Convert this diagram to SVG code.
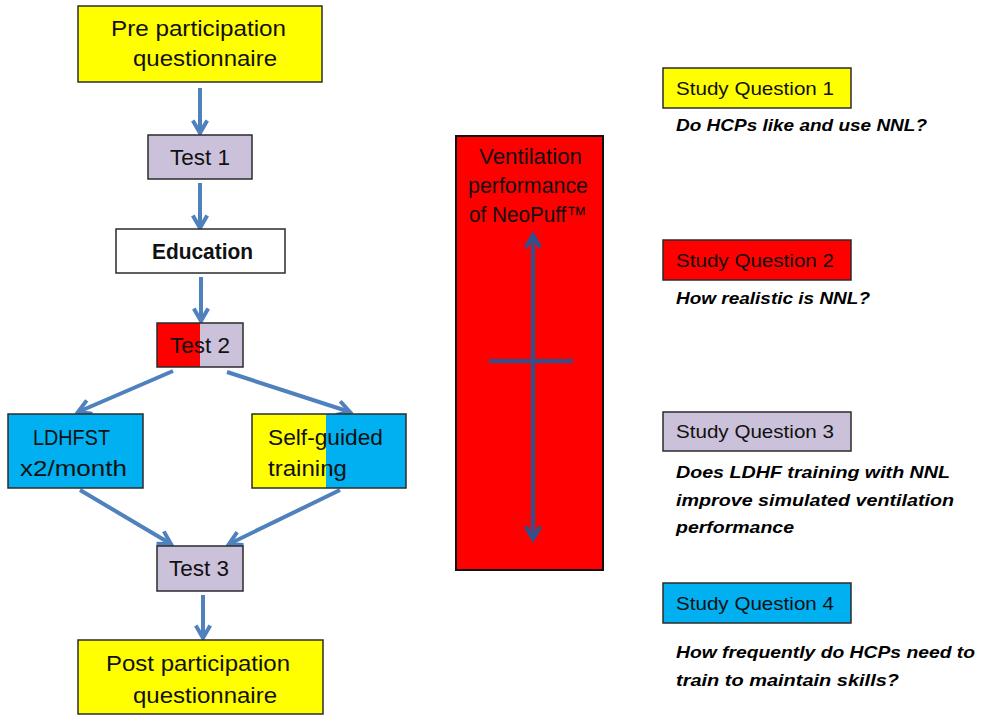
<svg xmlns="http://www.w3.org/2000/svg" width="986" height="716" viewBox="0 0 986 716">
<defs>
<style>
.box{stroke:#2b2b2b;stroke-width:1.5}
.s{font-family:"Liberation Sans","Open Sans",Arial,sans-serif;font-size:22px;fill:#111}
.q{font-family:"Liberation Sans","Open Sans",Arial,sans-serif;font-size:19px;fill:#111}
.qi{font-family:"Liberation Sans",Arial,sans-serif;font-size:17px;font-weight:bold;font-style:italic;fill:#000}
.c{stroke:#4F81BD;stroke-width:4;fill:none}
.d{stroke:#2F528F;stroke-width:4;fill:none}
</style>
<marker id="ah" viewBox="0 0 10 10" refX="8" refY="5" markerWidth="4.5" markerHeight="4.5" orient="auto" markerUnits="strokeWidth">
<path d="M1,1 L8,5 L1,9" fill="none" stroke="#4F81BD" stroke-width="2.2"/>
</marker>
<marker id="dh" viewBox="0 0 10 10" refX="8" refY="5" markerWidth="4.5" markerHeight="4.5" orient="auto" markerUnits="strokeWidth">
<path d="M1,1 L8,5 L1,9" fill="none" stroke="#2F528F" stroke-width="2.2"/>
</marker>
</defs>
<rect width="986" height="716" fill="#fff"/>

<g id="connectors">
<line class="c" x1="200" y1="88" x2="200" y2="133" marker-end="url(#ah)"/>
<line class="c" x1="200" y1="183" x2="200" y2="228" marker-end="url(#ah)"/>
<line class="c" x1="201" y1="277" x2="201" y2="321" marker-end="url(#ah)"/>
<line class="c" x1="173" y1="371" x2="78" y2="412" marker-end="url(#ah)"/>
<line class="c" x1="227" y1="372" x2="350" y2="412" marker-end="url(#ah)"/>
<line class="c" x1="80" y1="490" x2="171" y2="544" marker-end="url(#ah)"/>
<line class="c" x1="340" y1="490" x2="229" y2="544" marker-end="url(#ah)"/>
<line class="c" x1="203" y1="595" x2="203" y2="638" marker-end="url(#ah)"/>
</g>

<g id="pre">
<rect class="box" x="78" y="6" width="244" height="76" fill="#FFFF00"/>
<text class="s" x="111" y="36" textLength="175" lengthAdjust="spacingAndGlyphs">Pre participation</text>
<text class="s" x="133" y="66" textLength="144" lengthAdjust="spacingAndGlyphs">questionnaire</text>
</g>
<g id="test1">
<rect class="box" x="148" y="135" width="104" height="44" fill="#CCC1DA"/>
<text class="s" x="170" y="165" textLength="60" lengthAdjust="spacingAndGlyphs">Test 1</text>
</g>
<g id="education">
<rect class="box" x="116" y="229" width="169" height="44" fill="#fff"/>
<text class="s" x="152" y="259" font-weight="bold" textLength="101" lengthAdjust="spacingAndGlyphs">Education</text>
</g>
<g id="test2">
<rect x="157" y="323" width="43" height="44" fill="#FF0000"/>
<rect x="200" y="323" width="43" height="44" fill="#CCC1DA"/>
<rect class="box" x="157" y="323" width="86" height="44" fill="none"/>
<text class="s" x="170" y="353" textLength="60" lengthAdjust="spacingAndGlyphs">Test 2</text>
</g>
<g id="ldhfst">
<rect class="box" x="8" y="414" width="135" height="74" fill="#00B0F0"/>
<text class="s" x="33" y="445" textLength="77" lengthAdjust="spacingAndGlyphs">LDHFST</text>
<text class="s" x="20" y="476" textLength="107" lengthAdjust="spacingAndGlyphs">x2/month</text>
</g>
<g id="selfguided">
<rect x="252" y="414" width="74" height="74" fill="#FFFF00"/>
<rect x="326" y="414" width="80" height="74" fill="#00B0F0"/>
<rect class="box" x="252" y="414" width="154" height="74" fill="none"/>
<text class="s" x="268" y="445" textLength="115" lengthAdjust="spacingAndGlyphs">Self-guided</text>
<text class="s" x="268" y="476" textLength="79" lengthAdjust="spacingAndGlyphs">training</text>
</g>
<g id="test3">
<rect class="box" x="157" y="546" width="86" height="45" fill="#CCC1DA"/>
<text class="s" x="169" y="576" textLength="60" lengthAdjust="spacingAndGlyphs">Test 3</text>
</g>
<g id="post">
<rect class="box" x="78" y="640" width="245" height="74" fill="#FFFF00"/>
<text class="s" x="106" y="671" textLength="184" lengthAdjust="spacingAndGlyphs">Post participation</text>
<text class="s" x="133" y="703" textLength="144" lengthAdjust="spacingAndGlyphs">questionnaire</text>
</g>

<g id="ventilation">
<rect x="456" y="136" width="147" height="434" fill="#FF0000" stroke="#111" stroke-width="2"/>
<text class="s" x="479" y="164" fill="#222" textLength="103" lengthAdjust="spacingAndGlyphs">Ventilation</text>
<text class="s" x="468" y="193" fill="#222" textLength="120" lengthAdjust="spacingAndGlyphs">performance</text>
<text class="s" x="469" y="222" fill="#222" textLength="118" lengthAdjust="spacingAndGlyphs">of NeoPuff™</text>
<line class="d" x1="533" y1="250" x2="533" y2="235" marker-end="url(#dh)"/>
<line class="d" x1="533" y1="250" x2="533" y2="539" marker-end="url(#dh)"/>
<line class="d" x1="489" y1="361" x2="573" y2="361" stroke-width="3"/>
</g>

<g id="sq1">
<rect class="box" x="663" y="68" width="188" height="40" fill="#FFFF00"/>
<text class="q" x="676" y="95" textLength="158" lengthAdjust="spacingAndGlyphs">Study Question 1</text>
<text class="qi" x="676" y="131" textLength="251" lengthAdjust="spacingAndGlyphs">Do HCPs like and use NNL?</text>
</g>
<g id="sq2">
<rect class="box" x="663" y="240" width="188" height="40" fill="#FF0000"/>
<text class="q" x="676" y="267" textLength="158" lengthAdjust="spacingAndGlyphs">Study Question 2</text>
<text class="qi" x="676" y="304" textLength="194" lengthAdjust="spacingAndGlyphs">How realistic  is NNL?</text>
</g>
<g id="sq3">
<rect class="box" x="663" y="412" width="188" height="39" fill="#CCC1DA"/>
<text class="q" x="676" y="438" textLength="158" lengthAdjust="spacingAndGlyphs">Study Question 3</text>
<text class="qi" x="676" y="478" textLength="274" lengthAdjust="spacingAndGlyphs">Does LDHF training  with NNL</text>
<text class="qi" x="676" y="506" textLength="278" lengthAdjust="spacingAndGlyphs">improve simulated ventilation</text>
<text class="qi" x="676" y="533" textLength="118" lengthAdjust="spacingAndGlyphs">performance</text>
</g>
<g id="sq4">
<rect class="box" x="663" y="583" width="188" height="40" fill="#00B0F0"/>
<text class="q" x="676" y="610" textLength="158" lengthAdjust="spacingAndGlyphs">Study Question 4</text>
<text class="qi" x="676" y="658" textLength="299" lengthAdjust="spacingAndGlyphs">How frequently do HCPs need to</text>
<text class="qi" x="676" y="686" textLength="223" lengthAdjust="spacingAndGlyphs">train to maintain skills?</text>
</g>
</svg>
